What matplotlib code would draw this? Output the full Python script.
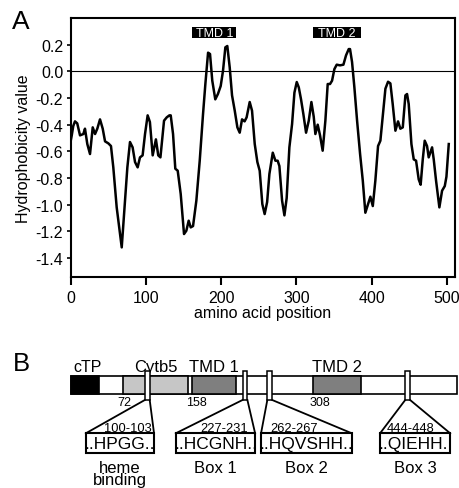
import matplotlib
matplotlib.use("Agg")
import matplotlib.pyplot as plt
import matplotlib.patches as mpatches

plt.rcParams['font.family'] = ['Liberation Sans', 'DejaVu Sans']

# --- hydrophobicity profile (amino acid position, value) ---
position = [0, 1, 3, 5.3, 8.3, 12, 16.4, 18.6, 21.7, 25.3, 28.9, 32, 35, 38.6, 42.2,
            45.3, 49.7, 53.2, 56.3, 60.8, 67.5, 71.9, 75, 78.5, 82, 85.2, 88.7, 91.8,
            95.3, 98.5, 102, 105, 108.7, 113, 116.1, 119, 123.8, 127.4, 130.9, 132.7,
            135.8, 138.8, 142, 146, 150.4, 153.5, 156.6, 159.3, 162.4, 166.8, 171.3,
            175.7, 178.8, 182.4, 185, 188, 192, 195.5, 199.2, 202.3, 205.4, 208, 211.2,
            214.3, 217.9, 221.4, 224.5, 227.6, 231, 233.7, 237.8, 240.9, 244.5, 248,
            251.1, 254.6, 257.7, 261, 264, 268.5, 272, 275, 277.3, 280.9, 284, 287,
            290.6, 294.2, 297.3, 300.4, 303.1, 306.1, 309.2, 312.8, 316.4, 319.9, 323,
            325.2, 328.3, 331.4, 334.9, 338.5, 341.6, 344.7, 347.4, 350.5, 353.6, 358,
            362.5, 366, 369.6, 371.3, 374, 377.1, 380.7, 384.7, 388.3, 391.7, 395.3,
            398.4, 401.6, 405, 408.6, 411.7, 414.9, 418.4, 421.9, 425, 428.1, 431.7,
            435.2, 438.3, 441.5, 445, 447.2, 449.4, 453, 456.1, 459.2, 462.7, 465.3,
            468.1, 470.7, 473.8, 476, 480.5, 482.7, 485.8, 490.2, 493.8, 497.4, 499.6,
            502.7]
hydro = [-0.51, -0.48, -0.41, -0.375, -0.39, -0.48, -0.47, -0.43, -0.545, -0.62, -0.42,
         -0.47, -0.43, -0.36, -0.43, -0.525, -0.54, -0.56, -0.72, -1.02, -1.32, -0.97,
         -0.72, -0.53, -0.57, -0.68, -0.72, -0.645, -0.63, -0.47, -0.33, -0.38, -0.63,
         -0.51, -0.63, -0.645, -0.37, -0.345, -0.33, -0.33, -0.47, -0.73, -0.745, -0.92,
         -1.22, -1.195, -1.12, -1.17, -1.16, -0.97, -0.67, -0.32, -0.095, 0.14, 0.13,
         -0.07, -0.21, -0.17, -0.11, 0.005, 0.18, 0.19, 0.03, -0.18, -0.295, -0.42,
         -0.46, -0.36, -0.375, -0.345, -0.23, -0.295, -0.545, -0.68, -0.745, -0.995,
         -1.07, -0.98, -0.77, -0.61, -0.67, -0.67, -0.71, -0.97, -1.08, -0.95, -0.57,
         -0.395, -0.16, -0.08, -0.12, -0.21, -0.32, -0.46, -0.37, -0.23, -0.34, -0.47,
         -0.40, -0.48, -0.595, -0.37, -0.095, -0.095, -0.07, 0.017, 0.05, 0.045, 0.05,
         0.12, 0.167, 0.167, 0.07, -0.12, -0.37, -0.62, -0.82, -1.06, -0.995, -0.94,
         -1.01, -0.82, -0.56, -0.52, -0.33, -0.13, -0.078, -0.09, -0.245, -0.445,
         -0.375, -0.43, -0.42, -0.18, -0.17, -0.245, -0.545, -0.66, -0.67, -0.81,
         -0.85, -0.66, -0.52, -0.56, -0.645, -0.57, -0.66, -0.82, -1.02, -0.895, -0.86,
         -0.79, -0.545]

x_ticks = [0, 100, 200, 300, 400, 500]
y_ticks = [0.2, 0.0, -0.2, -0.4, -0.6, -0.8, -1.0, -1.2, -1.4]

# --- protein domains (schematic, amino acid units) ---
protein_length = 514
domain_names = ["cTP", "Cytb5", "TMD 1", "TMD 2"]
domain_start = [0, 69, 161.5, 322.5]
domain_end = [37, 156, 220, 385.7]
domain_colors = ["black", "#c6c6c6", "#7f7f7f", "#7f7f7f"]
boundary_labels = ["72", "158", "308"]
boundary_x = [70.5, 167.5, 331.5]

# --- motifs ---
site_labels = ["100-103", "227-231", "262-267", "444-448"]
site_center = [101.5, 231.5, 264.5, 448]
motif_seq = ["..HPGG..", "..HCGNH..", "..HQVSHH..", "..QIEHH.."]
motif_names = ["heme\nbinding", "Box 1", "Box 2", "Box 3"]
box_left = [19.7, 139.4, 252.9, 411.3]
box_right = [110.5, 245, 373.7, 504.6]
site_label_x = [107.8, 235.6, 264.9, 452]
site_label_ha = ["right", "right", "left", "center"]

W, H = 460, 489
fig = plt.figure(figsize=(W / 100, H / 100), dpi=100)

# ---------------- panel A ----------------
ax = fig.add_axes([71 / W, 1 - 278 / H, 384 / W, 259 / H])
ax.plot(position, hydro, color="black", lw=1.8, solid_joinstyle="round")
ax.axhline(0, color="black", lw=0.8)
ax.set_xlim(0, 511)
ax.set_ylim(-1.542, 0.4)
ax.set_xticks(x_ticks)
ax.set_yticks(y_ticks)
ax.set_yticklabels([f"{v:.1f}" for v in y_ticks])
for s in ax.spines.values():
    s.set_linewidth(1.5)
ax.tick_params(axis="x", direction="out", length=6, width=1.5, pad=3.5, labelsize=11.5)
ax.tick_params(axis="y", direction="out", length=3.1, width=1.2, pad=2.5, labelsize=11.5)
ax.set_ylabel("Hydrophobicity value", fontsize=11.5, labelpad=3)
ax.set_xlabel("amino acid position", fontsize=11.5, labelpad=0)

# TMD markers on top of the profile
for name, st, en in zip(domain_names, domain_start, domain_end):
    if not name.startswith("TMD"):
        continue
    ax.add_patch(mpatches.Rectangle((st, 0.247), en - st, 0.083, facecolor="black",
                                    edgecolor="none"))
    ax.text((st + en) / 2, 0.2885, name, color="white", fontsize=9,
            ha="center", va="center")

fig.text(12 / W, 1 - 22 / H, "A", fontsize=19, ha="left", va="center")

# ---------------- panel B ----------------
bx = fig.add_axes([71 / W, 0, 384 / W, 159 / H])
bx.set_xlim(0, 511)
bx.set_ylim(489, 330)
bx.axis("off")

bar_top, bar_bot = 377.3, 394.8
bx.add_patch(mpatches.Rectangle((0, bar_top), protein_length, bar_bot - bar_top,
                                facecolor="white", edgecolor="black", lw=1.2,
                                clip_on=False, zorder=1))
for name, st, en, c in zip(domain_names, domain_start, domain_end, domain_colors):
    bx.add_patch(mpatches.Rectangle((st, bar_top), en - st, bar_bot - bar_top,
                                    facecolor=c, edgecolor="black", lw=1.2,
                                    clip_on=False, zorder=2))
    if name == "cTP":
        bx.text(st + 2.5, 372.5, name, fontsize=11.5, ha="left", va="baseline")
    else:
        bx.text((st + en) / 2, 372.5, name, fontsize=12, ha="center", va="baseline")

for lab, x in zip(boundary_labels, boundary_x):
    bx.text(x, 403, lab, fontsize=9, ha="center", va="center")

slot_w = 6.5
box_top, box_bot = 434.3, 454.3
for i in range(len(site_center)):
    sc = site_center[i]
    bx.add_patch(mpatches.Rectangle((sc - slot_w / 2, 372), slot_w, 29,
                                    facecolor="white", edgecolor="black", lw=1.1,
                                    clip_on=False, zorder=3))
    # zoom lines
    bx.plot([sc - slot_w / 2, box_left[i]], [401, box_top], color="black", lw=1.3,
            clip_on=False)
    bx.plot([sc + slot_w / 2, box_right[i]], [401, box_top], color="black", lw=1.3,
            clip_on=False)
    bx.add_patch(mpatches.Rectangle((box_left[i], box_top), box_right[i] - box_left[i],
                                    box_bot - box_top, facecolor="white",
                                    edgecolor="black", lw=1.5, clip_on=False, zorder=3))
    mid = (box_left[i] + box_right[i]) / 2
    bx.text(mid, 444.8, motif_seq[i], fontsize=12.5, ha="center", va="center", zorder=4)
    bx.text(site_label_x[i], 429, site_labels[i], fontsize=9.3, ha=site_label_ha[i],
            va="center")
    bx.text(mid, 461.5, motif_names[i], fontsize=12, ha="center", va="top",
            linespacing=0.75)

fig.text(13 / W, 1 - 364 / H, "B", fontsize=18.5, ha="left", va="center")

fig.savefig("out.png", dpi=100, facecolor="white")
